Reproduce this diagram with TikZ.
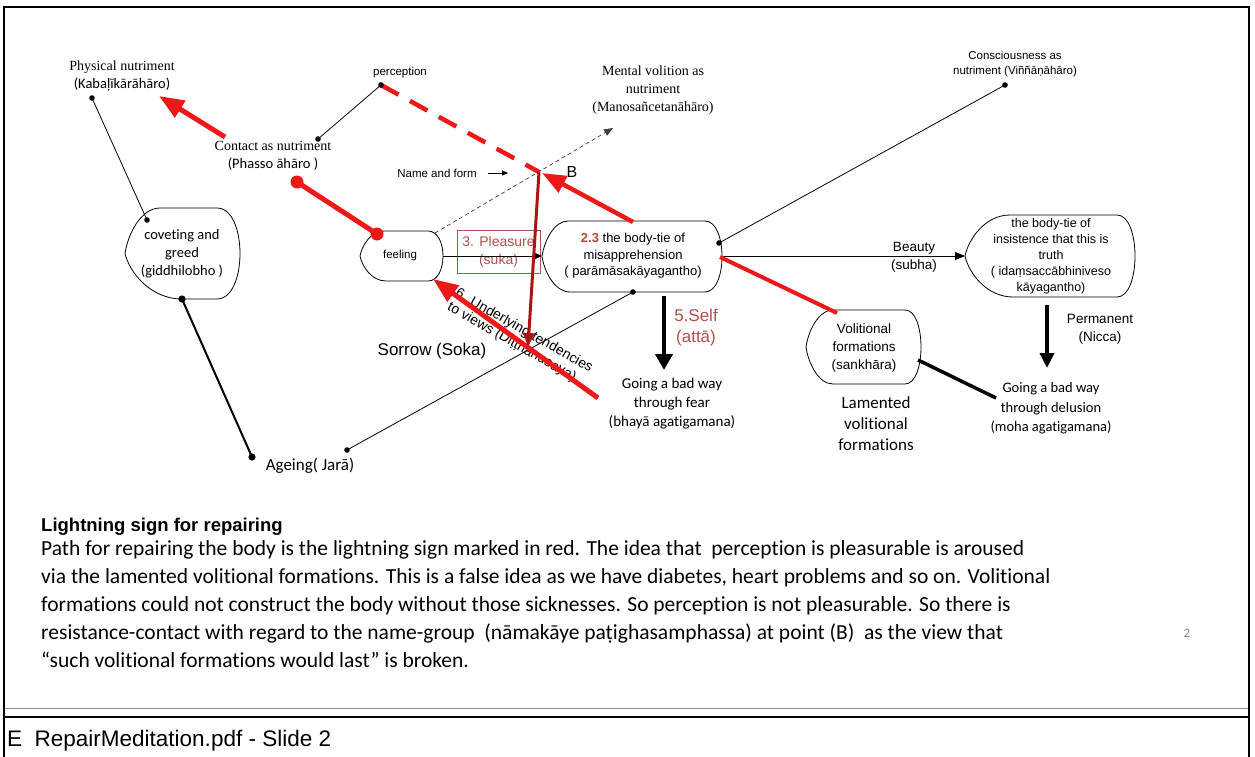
\documentclass[tikz,border=0pt]{standalone}
\usepackage{fontspec}
\setmainfont{Liberation Serif}
\newfontfamily\arialf{Liberation Sans}
\newfontfamily\calf[Ligatures=NoCommon]{Carlito}
\usetikzlibrary{arrows.meta,calc}

\definecolor{lred}{RGB}{238,24,24}
\definecolor{dred}{RGB}{172,20,20}
\definecolor{pred}{RGB}{178,80,74}

% font helpers: size, baselineskip
\newcommand\fA[2]{\arialf\fontsize{#1}{#2}\selectfont}
\newcommand\fC[2]{\calf\fontsize{#1}{#2}\selectfont}
\newcommand\fS[2]{\rmfamily\fontsize{#1}{#2}\selectfont}

% display-style outline: pointed round left side, flat top/bottom, arc on the right
% #1 left tip x, #2 top-left x, #3 bottom-left x, #4 right end of flats, #5 right extreme x, #6 top y, #7 bottom y
\newcommand\dispshape[7]{%
  \draw[shapeline] (#2,#6) -- (#4,#6)
    .. controls ({#4+4/3*(#5-#4)},#6) and ({#4+4/3*(#5-#4)},#7) .. (#4,#7)
    -- (#3,#7)
    .. controls ({#3-0.55*(#3-#1)},#7) and ({#1+0.08*(#3-#1)},{(#6+#7)/2+0.42*(#7-#6)/2}) .. (#1,{(#6+#7)/2})
    .. controls ({#1+0.08*(#2-#1)},{(#6+#7)/2-0.42*(#7-#6)/2}) and ({#2-0.55*(#2-#1)},#6) .. (#2,#6)
    -- cycle;}

\tikzset{
  every node/.style={inner sep=0pt},
  shapeline/.style={line width=0.8pt, black},
  thinline/.style={line width=0.8pt, black},
  redline/.style={line width=5pt, lred},
  bigred/.style={line width=5pt, lred, -{Triangle[length=25pt,width=19pt]}},
  blackdown/.style={line width=4pt, black, -{Triangle[length=16pt,width=17pt]}},
}

\begin{document}
\begin{tikzpicture}[x=1pt,y=-1pt]
\useasboundingbox (0,0) rectangle (1255,757);
\fill[white] (0,0) rectangle (1255,757);

% slide frame and footer
\draw[line width=2.2pt] (4,757) -- (4,7) -- (1249,7) -- (1249,757);
\draw[line width=1pt, black!45] (5,708) -- (1248,708);
\draw[line width=2pt] (4,717) -- (1249,717);
\node[anchor=base west, font=\fA{22.5}{26}] (footer) at (7,746) {E\ \ RepairMeditation.pdf - Slide 2};

% outlined nodes
\dispshape{125}{160}{182}{217}{240}{208}{299}
\dispshape{360}{384}{386}{428}{443}{231}{281}
\dispshape{542}{568}{570}{705}{722}{221}{292}
\dispshape{965}{1010}{1013}{1117}{1135}{215}{297}
\dispshape{806}{833}{833}{905}{921}{310}{384}

% texts inside the outlines
\node[align=center, font=\fC{14.5}{18}] (covet) at (182,254) {coveting and\\greed\\(giddhilobho )};
\node[font=\fA{11.5}{14}] (feel) at (400,256) {feeling};
\node[align=center, font=\fA{13}{16.5}] (body) at (633,256) {{\color{pred!85!red}\bfseries 2.3} the body-tie of\\misapprehension\\( parāmāsakāyagantho)};
\node[align=center, font=\fA{12.5}{16}] (insist) at (1051,256) {the body-tie of\\insistence that this is\\truth\\( idaṃsaccābhiniveso\\kāyagantho)};
\node[align=center, font=\fA{13.5}{18}] (volit) at (864,348) {Volitional\\formations\\(sankhāra)};

% free labels
\node[align=center, font=\fS{14}{18}] (phys) at (122,76) {Physical nutriment\\{\fC{14.5}{18}(Kabaḷīkārāhāro)}};
\node[align=center, font=\fS{14}{18}] (contact) at (273,156) {Contact as nutriment\\{\fC{14.5}{18}(Phasso āhāro )}};
\node[font=\fA{11.5}{14}] (perc) at (400,73) {perception};
\node[align=center, font=\fS{14}{18}] (mental) at (653,90) {Mental volition as\\nutriment\\(Manosañcetanāhāro)};
\node[align=center, font=\fA{11.5}{15}] (consc) at (1015,64.5) {Consciousness as\\nutriment (Viññāṇāhāro)};
\node[font=\fA{11.5}{14}] (nameform) at (437,173) {Name and form};
\node[font=\fA{16}{18}] (Blab) at (572,172) {B};
\node[align=center, font=\fA{13.5}{18}] (beauty) at (914,257) {Beauty\\(subha)};
\node[align=center, font=\fA{13.5}{18}] (perm) at (1100,329) {Permanent\\(Nicca)};
\node[align=center, font=\fC{14.5}{19.5}] (delus) at (1051,408.5) {Going a bad way\\through delusion\\(moha agatigamana)};
\node[align=center, font=\fC{15}{19}] (fear) at (672,404) {Going a bad way\\through fear\\(bhayā agatigamana)};
\node[align=center, font=\fC{17}{21}] (lament) at (876,424) {Lamented\\volitional\\formations};
\node[align=center, font=\fA{17}{21}, text=pred] (self) at (696,327.5) {5.Self\\(attā)};
\node[font=\fA{17}{20}] (sorrow) at (432,351) {Sorrow (Soka)};
\node[font=\fC{17}{20}] (ageing) at (310,466) {Ageing( Jarā)};
\node[align=left, font=\fA{14}{16}, rotate=-29.5] (tend) at (520,338) {6. Underlying tendencies\\to views (Diṭṭhānusaya)};
\node[draw=pred, line width=1pt, minimum width=83pt, minimum height=43pt, align=center, font=\fA{14}{18}, text=pred] (pleas) at (498.5,251.5) {3. Pleasure\\(suka)};

% connection points
\coordinate (physdot) at (92,98);
\coordinate (covtop) at (147,220);
\coordinate (covbot) at (182,299);
\coordinate (agedot) at (252,457);
\coordinate (agedot2) at (347,450);
\coordinate (bodybot) at (633,292);
\coordinate (bodyright) at (719,243);
\coordinate (consdot) at (1005,85);
\coordinate (contdot) at (318,139);
\coordinate (percdot) at (381,85);
\coordinate (B) at (539,172);
\coordinate (redA) at (297,182);
\coordinate (redB) at (377,234);
\coordinate (contarrow) at (225,137);
\coordinate (physarrow) at (159,96);
\coordinate (feelR) at (443,256);
\coordinate (bodyL) at (542,256);
\coordinate (feelTR) at (435,233);
\coordinate (mentalTip) at (613,128);
\coordinate (nfA) at (488,173);
\coordinate (nfB) at (508,173);
\coordinate (bodyTop) at (633,222);
\coordinate (Btip) at (542,173);
\coordinate (bodyR) at (721,256);
\coordinate (bodyR2) at (720,257);
\coordinate (insL) at (965,256);
\coordinate (volTL) at (837,313);
\coordinate (volR) at (918,360);
\coordinate (delusL) at (996,398);
\coordinate (tendTail) at (598,398);
\coordinate (feelBR) at (433,279);
\coordinate (sorrowTip) at (528,347);
\coordinate (selfA) at (664,296);
\coordinate (selfB) at (664,370);
\coordinate (permA) at (1047,305);
\coordinate (permB) at (1047,368);

% thin black connectors
\draw[thinline] (physdot) -- (covtop);
\draw[thinline] (contdot) -- (percdot);
\draw[thinline] (agedot2) -- (bodybot);
\draw[thinline] (bodyright) -- (consdot);
\draw[line width=2pt] (covbot) -- (agedot);
\draw[line width=3.5pt] (volR) -- (delusL);
\draw[thinline, -{Triangle[length=10pt,width=8pt]}] (bodyR) -- (insL);
\draw[thinline, -{Triangle[length=7pt,width=6pt]}] (feelR) -- (bodyL);
\draw[line width=0.7pt, black!75, dash pattern=on 4pt off 3pt, -{Triangle[length=9pt,width=7pt]}] (feelTR) -- (mentalTip);
\draw[thinline, -{Triangle[length=6pt,width=5pt]}] (nfA) -- (nfB);

% black downward arrows
\draw[blackdown] (selfA) -- (selfB);
\draw[line width=3.5pt, -{Triangle[length=15pt,width=14pt]}] (permA) -- (permB);

% red path
\draw[redline] (redA) -- (redB);
\fill[lred] (redA) circle (6.5);
\fill[lred] (redB) circle (6.5);
\draw[bigred] (contarrow) -- (physarrow);
\draw[line width=4.5pt, lred, dash pattern=on 20pt off 13pt] (percdot) -- (B);
\draw[line width=4.5pt, lred, -{Triangle[length=24pt,width=18pt]}] (bodyTop) -- (Btip);
\draw[line width=4pt, lred] (bodyR2) -- (volTL);
\draw[bigred] (tendTail) -- (feelBR);
\draw[line width=3pt, dred, -{Triangle[length=14pt,width=11pt]}] (B) -- (sorrowTip);

% dots
\foreach \p in {physdot,covtop,contdot,percdot,bodybot,bodyright,consdot,agedot2}
  \fill (\p) circle (2.8);
\foreach \p in {covbot,agedot}
  \fill (\p) circle (3.6);

% explanation text
\node[anchor=base west, font=\fA{18.5}{22}\bfseries] (title) at (41,531.5) {Lightning sign for repairing};
\node[anchor=base west, font=\fC{21.5}{26}] (p1) at (41,555.5) {Path for repairing the body is the lightning sign marked in red. The idea that\ \ perception is pleasurable is aroused};
\node[anchor=base west, font=\fC{21.5}{26}] (p2) at (41,583.5) {via the lamented volitional formations. This is a false idea as we have diabetes, heart problems and so on. Volitional};
\node[anchor=base west, font=\fC{21.5}{26}] (p3) at (41,611.5) {formations could not construct the body without those sicknesses. So perception is not pleasurable. So there is};
\node[anchor=base west, font=\fC{21.5}{26}] (p4) at (41,639.5) {resistance-contact with regard to the name-group\ \ (nāmakāye paṭighasamphassa) at point (B)\ \ as the view that};
\node[anchor=base west, font=\fC{21.5}{26}] (p5) at (41,667.5) {“such volitional formations would last” is broken.};
\node[font=\fC{13}{15}, text=black!45] (pagenum) at (1187,633) {2};
\end{tikzpicture}
\end{document}
